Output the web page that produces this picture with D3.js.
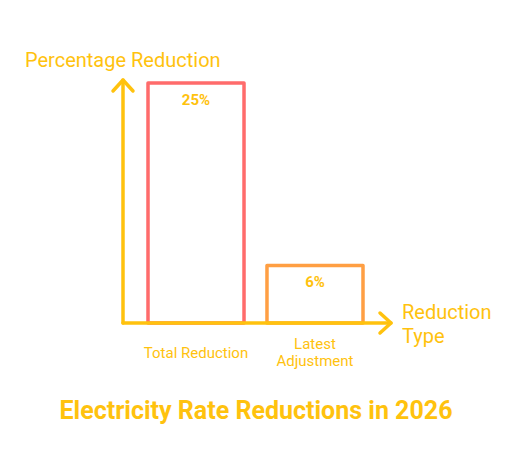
<!DOCTYPE html>
<html lang="en">
<head>
<meta charset="utf-8">
<title>Electricity Rate Reductions in 2026</title>
<script src="https://cdn.jsdelivr.net/npm/d3@7"></script>
<style>
  body { margin: 0; background: #fff; }
  text { font-family: Roboto, "Open Sans", sans-serif; fill: #FFC20E; }
</style>
</head>
<body>
<div id="chart"></div>
<script>
// data
var categories = ["Total Reduction", "Latest Adjustment"];
var values = [25, 6];
var valueLabels = ["25%", "6%"];
var barColors = ["#FF6B6B", "#FF9F43"];

var width = 522, height = 474;
var axisColor = "#FFC20E";

var svg = d3.select("#chart").append("svg")
    .attr("width", width).attr("height", height);

// scales
var x = d3.scaleBand()
    .domain(categories)
    .range([148, 363])
    .paddingInner(0.193)
    .paddingOuter(0);

var y = d3.scaleLinear()
    .domain([0, 25])
    .range([323, 83]);

var x0 = 123, y0 = y(0);

// bars (outlined, no fill)
svg.selectAll("rect.bar")
    .data(values)
    .enter().append("rect")
    .attr("class", "bar")
    .attr("x", function(d, i) { return x(categories[i]); })
    .attr("y", function(d) { return y(d); })
    .attr("width", x.bandwidth())
    .attr("height", function(d) { return y0 - y(d); })
    .style("fill", "none")
    .style("stroke", function(d, i) { return barColors[i]; })
    .style("stroke-width", 3.5)
    .style("stroke-linejoin", "round");

// value labels
svg.selectAll("text.val")
    .data(values)
    .enter().append("text")
    .attr("class", "val")
    .attr("x", function(d, i) { return x(categories[i]) + x.bandwidth() / 2; })
    .attr("y", function(d) { return y(d) + 22; })
    .attr("text-anchor", "middle")
    .style("font-size", "15px")
    .style("font-weight", "bold")
    .text(function(d, i) { return valueLabels[i]; });

// axes with arrows
var line = d3.line();
var axes = svg.append("g")
    .style("fill", "none")
    .style("stroke", axisColor)
    .style("stroke-width", 3.5)
    .style("stroke-linecap", "round")
    .style("stroke-linejoin", "round");

axes.append("path").attr("d", line([[x0, y0], [x0, 80]]));
axes.append("path").attr("d", line([[x0 - 10, 91], [x0, 80], [x0 + 10, 91]]));
axes.append("path").attr("d", line([[x0, y0], [391, y0]]));
axes.append("path").attr("d", line([[380, y0 - 10], [391, y0], [380, y0 + 10]]));

// category labels
svg.append("text")
    .attr("x", x(categories[0]) + x.bandwidth() / 2)
    .attr("y", 358)
    .attr("text-anchor", "middle")
    .style("font-size", "15px")
    .text(categories[0]);

var cx2 = x(categories[1]) + x.bandwidth() / 2;
var lab2 = svg.append("text")
    .attr("x", cx2)
    .attr("y", 349)
    .attr("text-anchor", "middle")
    .style("font-size", "15px");
lab2.append("tspan").attr("x", cx2).text("Latest");
lab2.append("tspan").attr("x", cx2).attr("dy", 17).text("Adjustment");

// axis titles
svg.append("text")
    .attr("x", 25).attr("y", 67)
    .style("font-size", "20px")
    .text("Percentage Reduction");

var xt = svg.append("text")
    .attr("x", 402).attr("y", 319)
    .style("font-size", "20px");
xt.append("tspan").attr("x", 402).text("Reduction");
xt.append("tspan").attr("x", 402).attr("dy", 24).text("Type");

// chart title
svg.append("text")
    .attr("x", 256).attr("y", 419)
    .attr("text-anchor", "middle")
    .style("font-size", "25px")
    .style("font-weight", "bold")
    .text("Electricity Rate Reductions in 2026");
</script>
</body>
</html>
